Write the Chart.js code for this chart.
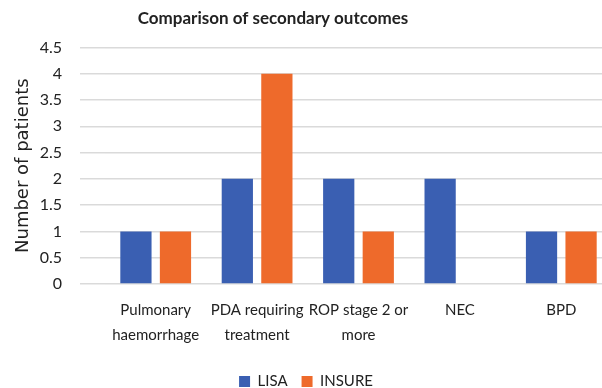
<!DOCTYPE html>
<html>
<head>
<meta charset="utf-8">
<script src="https://cdn.jsdelivr.net/npm/chart.js@4.4.0/dist/chart.umd.min.js"></script>
<style>
  html, body { margin: 0; padding: 0; background: #fff; overflow: hidden; }
  #wrap { width: 612px; height: 388px; position: relative; }
</style>
</head>
<body>
<div id="wrap"><canvas id="chartOutcomes"></canvas></div>
<script>
// Datos de la gráfica
const categories = [
  ['Pulmonary', 'haemorrhage'],
  ['PDA requiring', 'treatment'],
  ['ROP stage 2 or', 'more'],
  'NEC',
  'BPD'
];
const lisaValues = [1, 2, 2, 2, 1];
const insureValues = [1, 4, 1, 0, 1];
const yMax = 4.5;
const yStep = 0.5;

// Mover el título un poco a la izquierda (como en la figura original)
const titleShift = {
  id: 'titleShift',
  afterLayout: function(chart) {
    const t = chart.titleBlock;
    if (t) {
      t.right = t.right - 66;
    }
  }
};

const canvas = document.getElementById('chartOutcomes');
const ctx = canvas.getContext('2d');

new Chart(ctx, {
  type: 'bar',
  data: {
    labels: categories,
    datasets: [
      {
        label: 'LISA',
        data: lisaValues,
        backgroundColor: '#3a5fb2',
        barPercentage: 0.79,
        categoryPercentage: 0.78
      },
      {
        label: 'INSURE',
        data: insureValues,
        backgroundColor: '#ee6a2b',
        barPercentage: 0.79,
        categoryPercentage: 0.78
      }
    ]
  },
  plugins: [titleShift],
  options: {
    responsive: true,
    maintainAspectRatio: false,
    animation: false,
    layout: {
      padding: { left: 0, right: 0, top: 0, bottom: -11 }
    },
    plugins: {
      title: {
        display: true,
        text: 'Comparison of secondary outcomes',
        color: '#222',
        font: { family: 'Lato', size: 17, weight: 'bold', lineHeight: 1.2 },
        padding: { top: 8, bottom: 19 }
      },
      legend: {
        display: true,
        position: 'bottom',
        labels: {
          color: '#222',
          boxWidth: 11,
          boxHeight: 11,
          padding: 14,
          font: { family: 'Lato', size: 15 }
        }
      },
      tooltip: { enabled: false }
    },
    scales: {
      x: {
        grid: { display: false },
        border: { display: false },
        ticks: {
          color: '#222',
          padding: 5,
          maxRotation: 0,
          autoSkip: false,
          font: { family: 'Lato', size: 15, lineHeight: 1.7 }
        },
        afterFit: function(scale) {
          scale.height += 7;
        }
      },
      y: {
        min: 0,
        max: yMax,
        border: { display: false },
        grid: {
          color: '#dadada',
          lineWidth: 1.5,
          drawTicks: true,
          tickLength: 25
        },
        ticks: {
          stepSize: yStep,
          color: '#222',
          padding: 18,
          font: { family: 'Lato', size: 16 },
          callback: function(value) {
            return String(value);
          }
        },
        title: {
          display: true,
          text: 'Number of patients',
          color: '#222',
          font: { family: 'DejaVu Sans', size: 18 },
          padding: { top: 13, bottom: 4 }
        },
        afterFit: function(scale) {
          scale.width = 105;
        }
      }
    }
  }
});
</script>
</body>
</html>
